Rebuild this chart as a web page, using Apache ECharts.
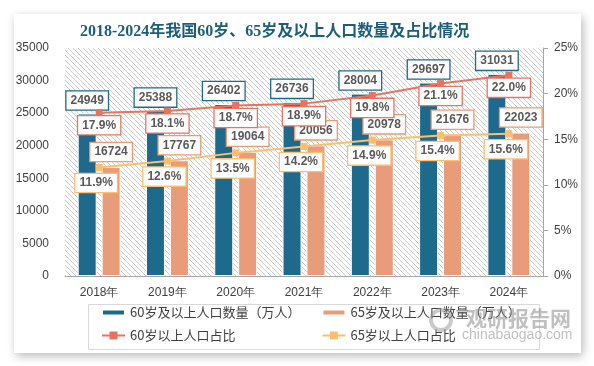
<!DOCTYPE html>
<html><head><meta charset="utf-8">
<script src="https://cdn.jsdelivr.net/npm/echarts@6/dist/echarts.min.js"></script>
<style>
html,body{margin:0;padding:0;background:#fff;width:594px;height:366px;overflow:hidden}
#card{position:absolute;left:14px;top:14px;width:567px;height:339px;background:#fff;box-shadow:2px 3px 9px rgba(0,0,0,0.28)}
#main{position:absolute;left:0;top:0;width:594px;height:366px}
</style></head>
<body>
<div id="card"></div>
<div id="main"></div>
<script>
const years = ['2018年','2019年','2020年','2021年','2022年','2023年','2024年'];
const count60 = [24949, 25388, 26402, 26736, 28004, 29697, 31031];
const count65 = [16724, 17767, 19064, 20056, 20978, 21676, 22023];
const ratio60 = [17.9, 18.1, 18.7, 18.9, 19.8, 21.1, 22.0];
const ratio65 = [11.9, 12.6, 13.5, 14.2, 14.9, 15.4, 15.6];
const names = ['60岁及以上人口数量（万人）','65岁及以上人口数量（万人）','60岁以上人口占比','65岁以上人口占比'];

function hatch(){
  const c=document.createElement('canvas'); c.width=5; c.height=5;
  const ctx=c.getContext('2d');
  ctx.fillStyle='#ffffff'; ctx.fillRect(0,0,5,5);
  ctx.fillStyle='#cdcdcd';
  for(let i=0;i<5;i++){ ctx.fillRect(i,i,1,1); }
  return c;
}

const C_BLUE='#1d6a8c', C_ORANGE='#e89c7a', C_RED='#e87460', C_YEL='#fdbf6f';
function boxLabel(pos, border, fmt, extra){
  return Object.assign({show:true, position:pos, distance:4, color:'#595959', fontWeight:'bold',
    fontSize:12, fontFamily:'Liberation Sans', backgroundColor:'#fff', borderColor:border,
    borderWidth:1.3, padding:[3,4,3,4], formatter:fmt}, extra||{});
}
const pct = p => p.value.toFixed(1)+'%';
const axisFont = {color:'#404040', fontSize:12, fontFamily:'Liberation Sans'};
const legendText = {fontSize:13, color:'#404040', fontFamily:'Noto Sans CJK SC'};

const chart = echarts.init(document.getElementById('main'), null, {renderer:'canvas'});
chart.setOption({
  backgroundColor:'transparent',
  animation:false,
  title:{text:'2018-2024年我国60岁、65岁及以上人口数量及占比情况', left:75, top:19,
    textStyle:{fontFamily:"'Liberation Serif','Noto Sans CJK SC'", fontWeight:'bold', fontSize:16, color:'#1d5e7b'}},
  grid:{left:65, right:51, top:48, bottom:90, show:true, borderWidth:0,
    backgroundColor:{image:hatch(), repeat:'repeat'}},
  legend:[
    {data:[names[0],names[1]], left:96, top:301, itemWidth:23, itemHeight:6, itemGap:21, icon:'rect',
      textStyle:legendText},
    {data:[names[2],names[3]], left:96, top:324, itemWidth:23, itemHeight:10, itemGap:86,
      textStyle:legendText}
  ],
  xAxis:{type:'category', data:years, axisTick:{show:false},
    axisLine:{lineStyle:{color:'#a6a6a6'}},
    axisLabel:Object.assign({margin:11}, axisFont)},
  yAxis:[
    {type:'value', min:0, max:35000, interval:5000, splitLine:{show:false}, axisLine:{show:false},
      axisTick:{show:false}, axisLabel:Object.assign({margin:16, formatter:v=>String(v)}, axisFont)},
    {type:'value', min:0, max:25, interval:5, splitLine:{show:false},
      axisLine:{show:true, lineStyle:{color:'#a6a6a6'}}, axisTick:{show:true, length:5, lineStyle:{color:'#a6a6a6'}},
      axisLabel:Object.assign({margin:11, formatter:'{value}%'}, axisFont)}
  ],
  series:[
    {name:names[0], type:'bar', data:count60, barWidth:19, barGap:'26%',
      itemStyle:{color:C_BLUE, borderColor:'#fff', borderWidth:1},
      label:boxLabel('top', C_BLUE, '{c}'), z:2},
    {name:names[1], type:'bar', data:count65, barWidth:19,
      itemStyle:{color:C_ORANGE, borderColor:'#fff', borderWidth:1},
      label:boxLabel('top', '#eb9a72', '{c}', {distance:6}), z:2},
    {name:names[2], type:'line', yAxisIndex:1, data:ratio60, symbol:'rect', symbolSize:7,
      itemStyle:{color:C_RED}, lineStyle:{color:C_RED, width:2},
      label:boxLabel('bottom', C_RED, pct, {distance:0}), z:4},
    {name:names[3], type:'line', yAxisIndex:1, data:ratio65, symbol:'rect', symbolSize:7,
      itemStyle:{color:C_YEL}, lineStyle:{color:C_YEL, width:2},
      label:boxLabel('bottom', C_YEL, pct, {distance:3, offset:[-3,0]}), z:4}
  ],
  graphic:[
    {type:'rect', left:86, top:302, shape:{width:451, height:45}, style:{fill:'none', stroke:'#d9d9d9', lineWidth:1}, z:-1, silent:true},
    {type:'circle', shape:{cx:441, cy:320, r:10}, style:{fill:'none', stroke:'rgba(150,150,150,0.5)', lineWidth:4}, z:10, silent:true},
    {type:'text', left:466, top:308, style:{text:'观研报告网', fontSize:21, fontWeight:'bold', fontFamily:'Noto Sans CJK SC', fill:'rgba(140,140,140,0.55)'}, z:10, silent:true},
    {type:'text', left:462, top:328, style:{text:'chinabaogao.com', fontSize:14, fontFamily:'Liberation Sans', fill:'rgba(140,140,140,0.55)'}, z:10, silent:true}
  ]
});
</script>
</body></html>
